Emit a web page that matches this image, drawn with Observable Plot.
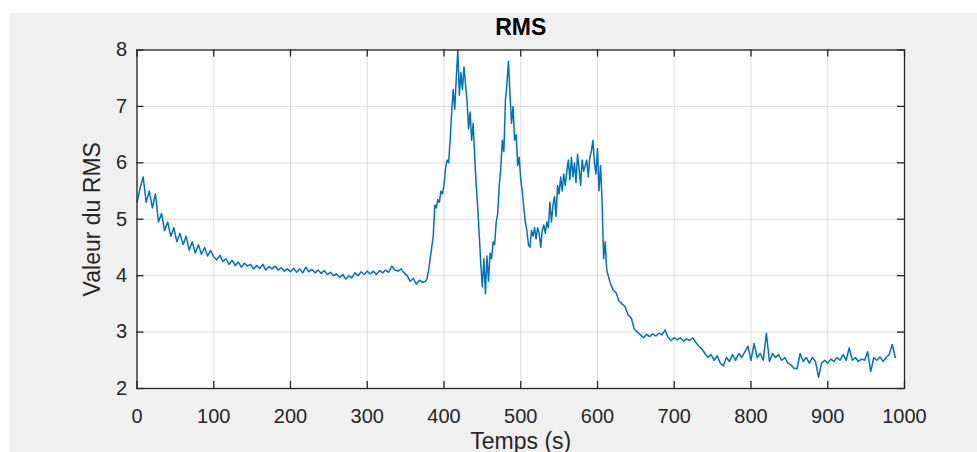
<!DOCTYPE html>
<html>
<head>
<meta charset="utf-8">
<script src="https://cdn.jsdelivr.net/npm/d3@7"></script>
<script src="https://cdn.jsdelivr.net/npm/@observablehq/plot@0.6"></script>
<style>
  html, body { margin: 0; padding: 0; background: #ffffff; width: 977px; height: 452px; overflow: hidden; }
  #bg { position: absolute; left: 10px; top: 13px; right: 0; bottom: 0; background: #f0f0f0; }
  #chart { position: absolute; left: 0; top: 0; }
</style>
</head>
<body>
<div id="bg"></div>
<div id="chart"></div>
<script>
// Chart texts
const title = "RMS";
const xLabel = "Temps (s)";
const yLabel = "Valeur du RMS";
const xTicks = [0, 100, 200, 300, 400, 500, 600, 700, 800, 900, 1000];
const yTicks = [2, 3, 4, 5, 6, 7, 8];

// RMS values, in segments: [start time, step (s), values]
const rms0to372 = [
  5.3, 5.55, 5.75, 5.3, 5.5, 5.2, 5.45, 4.95, 5.1, 4.8, 4.95, 4.7, 4.85, 4.6, 4.75, 4.55, 4.7, 4.45, 4.6, 4.4, 4.55, 4.38, 4.5, 4.35, 4.45, 4.33,
  4.28, 4.36, 4.25, 4.3, 4.2, 4.27, 4.18, 4.24, 4.15, 4.22, 4.17, 4.2, 4.12, 4.18, 4.13, 4.2, 4.1, 4.16, 4.12, 4.17, 4.1, 4.14, 4.08, 4.12, 4.07, 4.13, 4.06, 4.12, 4.05, 4.15, 4.07, 4.11, 4.05, 4.1, 4.04, 4.09, 4.02,
  4.06, 4.0, 4.03, 3.97, 4.02, 3.94, 4.0, 3.96, 4.05, 4.0, 4.07, 4.02, 4.08, 4.03, 4.08, 4.02, 4.09, 4.05, 4.1, 4.06, 4.17, 4.1, 4.08, 4.12, 4.05, 4.0, 3.9, 3.95, 3.85, 3.92, 3.88
];
const rms376to612 = [
  3.9, 3.95, 4.1, 4.3, 4.5, 4.7, 5.25, 5.2, 5.35, 5.3, 5.5, 5.45, 5.6, 5.9, 6.05, 6.0, 6.4, 6.9, 7.3, 6.95,
  7.5, 8.0, 7.2, 7.6, 7.3, 7.7, 7.4, 7.1, 6.6, 6.9, 6.4, 6.7, 6.1, 5.6, 5.2, 4.7, 4.2, 3.8, 4.3, 3.68,
  4.35, 3.9, 4.4, 4.3, 4.6, 4.55, 4.95, 5.1, 5.6, 5.9, 6.4, 6.2, 7.1, 7.4, 7.8, 7.2, 6.7, 7.0, 6.4, 6.5,
  5.95, 6.1, 5.7, 5.5, 5.2, 4.95, 4.8, 4.55, 4.5, 4.8, 4.7, 4.85, 4.65, 4.85, 4.75, 4.5, 4.8, 4.9, 4.75, 4.95,
  4.85, 5.3, 4.95, 5.25, 5.4, 5.05, 5.6, 5.45, 5.75, 5.5, 5.8, 5.6, 5.85, 6.05, 5.7, 6.1, 5.75, 6.0, 5.65, 6.15,
  5.9, 5.6, 6.05, 5.85, 5.95, 6.05, 5.75, 6.1, 6.2, 6.4, 6.0, 5.8, 6.25, 5.5, 5.95, 5.3, 4.3, 4.6, 4.1
];
const rms616to988 = [
  3.9, 3.75, 3.7, 3.55, 3.5, 3.45, 3.3, 3.25, 3.05, 3.0, 2.95, 2.9, 2.96, 2.92, 2.97, 2.93, 2.98, 2.95, 3.04, 2.9, 2.85, 2.9,
  2.86, 2.9, 2.84, 2.88, 2.85, 2.9, 2.82, 2.75, 2.7, 2.62, 2.55, 2.6, 2.5, 2.58, 2.45, 2.4, 2.55, 2.48, 2.6, 2.5, 2.62, 2.55, 2.65, 2.75, 2.5,
  2.8, 2.55, 2.62, 2.5, 2.98, 2.48, 2.62, 2.55, 2.6, 2.5, 2.55, 2.45, 2.42, 2.36, 2.35, 2.62, 2.48, 2.55, 2.45, 2.55, 2.48, 2.2, 2.45, 2.5, 2.45,
  2.52, 2.48, 2.55, 2.5, 2.6, 2.5, 2.72, 2.5, 2.55, 2.48, 2.52, 2.5, 2.65, 2.3, 2.55, 2.5, 2.56, 2.48, 2.55, 2.6, 2.78, 2.55
];
const segments = [
  {start: 0, step: 4, values: rms0to372},
  {start: 376, step: 2, values: rms376to612},
  {start: 616, step: 4, values: rms616to988}
];
const data = segments.flatMap(s => s.values.map((v, i) => ({t: s.start + i * s.step, v})));

const W = 977, H = 452;
const mL = 136.5, mR = 73, mT = 49.5, mB = 64;
const fw = W - mL - mR, fh = H - mT - mB;
const tickLen = 7;
const ink = "#262626";
const fmt = d => String(d);

const chart = Plot.plot({
  width: W,
  height: H,
  marginLeft: mL,
  marginRight: mR,
  marginTop: mT,
  marginBottom: mB,
  style: {background: "transparent", fontFamily: "'Liberation Sans', Arial, Helvetica, sans-serif", fontSize: "20px", color: ink},
  x: {domain: [0, 1000]},
  y: {domain: [2, 8]},
  marks: [
    Plot.frame({fill: "white", stroke: "none"}),
    Plot.gridX(xTicks, {stroke: ink, strokeOpacity: 0.15, strokeWidth: 1}),
    Plot.gridY(yTicks, {stroke: ink, strokeOpacity: 0.15, strokeWidth: 1}),
    Plot.lineY(data, {x: "t", y: "v", stroke: "#0072BD", strokeWidth: 1.5}),
    Plot.frame({stroke: ink, strokeWidth: 1.3}),
    Plot.ruleX(xTicks, {insetTop: fh - tickLen, stroke: ink, strokeWidth: 1.3}),
    Plot.ruleX(xTicks, {insetBottom: fh - tickLen, stroke: ink, strokeWidth: 1.3}),
    Plot.ruleY(yTicks, {insetRight: fw - tickLen, stroke: ink, strokeWidth: 1.3}),
    Plot.ruleY(yTicks, {insetLeft: fw - tickLen, stroke: ink, strokeWidth: 1.3}),
    Plot.axisX(xTicks, {tickSize: 0, tickPadding: 20, label: null, tickFormat: fmt, fontSize: 20, fill: ink}),
    Plot.axisY(yTicks, {tickSize: 0, tickPadding: 10, label: null, tickFormat: fmt, fontSize: 20, fill: ink}),
    Plot.text([title], {frameAnchor: "top", lineAnchor: "middle", textAnchor: "middle", dy: -22, fontWeight: "bold", fontSize: 23, fill: "#000000"}),
    Plot.text([yLabel], {frameAnchor: "left", lineAnchor: "middle", textAnchor: "middle", dx: -44, rotate: -90, fontSize: 23, fill: ink}),
    Plot.text([xLabel], {frameAnchor: "bottom", lineAnchor: "middle", textAnchor: "middle", dy: 53, fontSize: 23, fill: ink})
  ]
});
document.getElementById("chart").appendChild(chart);
</script>
</body>
</html>
